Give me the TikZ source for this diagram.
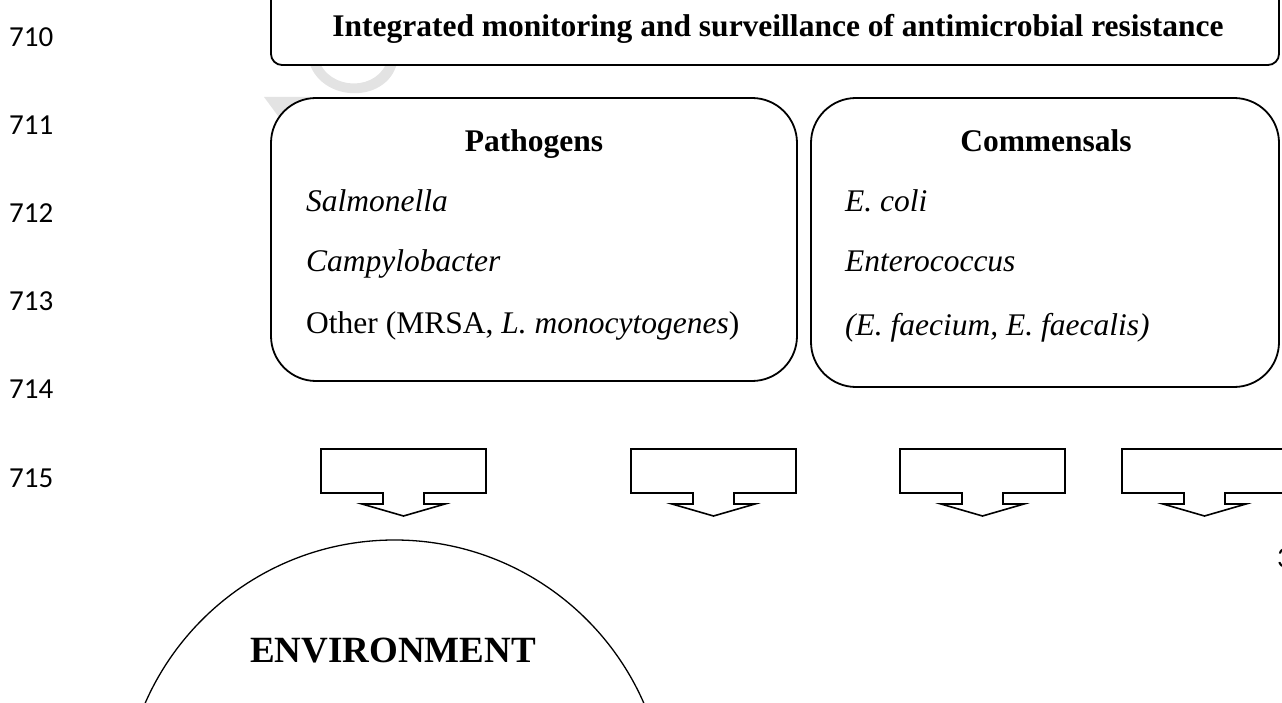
\documentclass[tikz,border=0pt]{standalone}
\usepackage{fontspec}
\setmainfont{Liberation Serif}
\newfontfamily\lnfont{Carlito}
\begin{document}
\begin{tikzpicture}[x=1pt,y=-1pt,
  frame/.style={draw=black,line width=1.8pt,fill=white,inner sep=0pt},
  heading/.style={font=\fontsize{31.5}{36}\selectfont\bfseries,anchor=base,inner sep=0pt},
  item/.style={font=\fontsize{31.5}{36}\selectfont,anchor=base west,inner sep=0pt},
  lineno/.style={font=\lnfont\fontsize{29}{34}\selectfont,anchor=base west,inner sep=0pt},
  callout/.style={draw=black,line width=1.6pt,fill=white,line join=miter},
  wm/.style={fill=black!11,draw=none}]
\useasboundingbox (0,0) rectangle (1282,703);
% faint watermark fragments
\fill[wm] (308,58) .. controls (318,105) and (392,105) .. (398,58) -- (388,58) .. controls (380,92) and (328,92) .. (318,58) -- cycle;
\fill[wm] (264,97) -- (310,97) -- (284,124) -- cycle;
% line numbers
\node[lineno] (l710) at (9,47) {710};
\node[lineno] (l711) at (9,135) {711};
\node[lineno] (l712) at (9,223) {712};
\node[lineno] (l713) at (9,310) {713};
\node[lineno] (l714) at (9,398) {714};
\node[lineno] (l715) at (9,487) {715};
\node[lineno] (pgnum) at (1277,567) {3};
% title box
\node[frame,rounded corners=11pt,minimum width=1008pt,minimum height=85pt] (top) at (775,22.5) {};
\node[heading] (title) at (778,37) {Integrated monitoring and surveillance of antimicrobial resistance};
% group boxes
\node[frame,rounded corners=45pt,minimum width=526pt,minimum height=283pt] (patho) at (534,239.5) {};
\node[frame,rounded corners=45pt,minimum width=468pt,minimum height=289pt] (comm) at (1045,242.5) {};
\node[heading] (pathohead) at (534,152) {Pathogens};
\node[heading] (commhead) at (1046,152) {Commensals};
\node[item] (salm) at (306,212) {\itshape Salmonella};
\node[item] (campy) at (306,272) {\itshape Campylobacter};
\node[item] (other) at (306,334) {Other (MRSA, \textit{L. monocytogenes})};
\node[item] (ecoli) at (845,212) {\itshape E. coli};
\node[item] (entero) at (845,272) {\itshape Enterococcus};
\node[item] (efae) at (845,335) {\itshape (E. faecium, E. faecalis)};
% down-arrow callouts
\foreach \x [count=\i] in {321,631,900,1122} {
  \draw[callout] (\x,449) -- (\x+165,449) -- (\x+165,493) -- (\x+103,493) -- (\x+103,504)
    -- (\x+124,504) -- (\x+82.5,516) -- (\x+41,504) -- (\x+62,504) -- (\x+62,493)
    -- (\x,493) -- cycle;
}
% environment
\node[draw=black,line width=1.3pt,circle,minimum size=544pt,inner sep=0pt] (env) at (394.5,812) {};
\node[heading,font=\fontsize{37}{42}\selectfont\bfseries] (envlabel) at (393,662) {ENVIRONMENT};
\end{tikzpicture}
\end{document}
